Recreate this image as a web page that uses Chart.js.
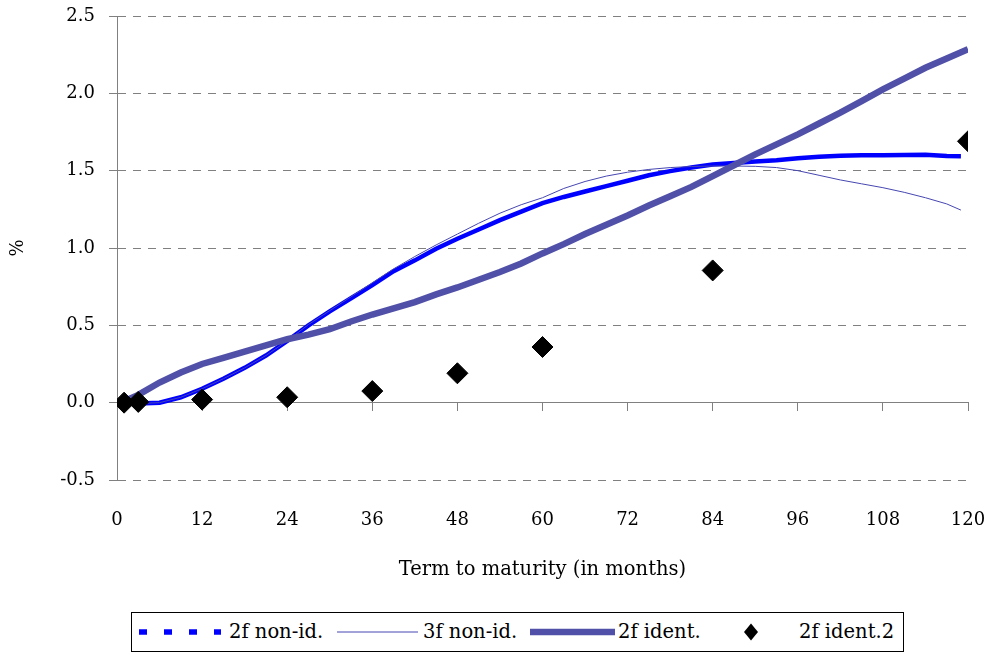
<!DOCTYPE html>
<html>
<head>
<meta charset="utf-8">
<script src="https://cdn.jsdelivr.net/npm/chart.js@4/dist/chart.umd.min.js"></script>
<style>
  html, body { margin: 0; padding: 0; background: #fff; }
  #wrap { position: relative; width: 994px; height: 656px; }
  #legend {
    position: absolute; left: 131px; top: 612px; width: 773px; height: 40px;
    border: 1px solid #000; box-sizing: border-box; background: #fff;
    font-family: "DejaVu Serif", serif; font-size: 19.5px; color: #000;
  }
  #legend .txt { position: absolute; top: 0; height: 38px; line-height: 38px; white-space: nowrap; }
  #legend canvas { position: absolute; top: 0; }
</style>
</head>
<body>
<div id="wrap">
  <canvas id="chart" width="994" height="656"></canvas>
  <div id="legend"></div>
</div>
<script>
// Terms (months) and yields (%)
const termsNonId = [1, 3, 6, 9, 12, 15, 18, 21, 24, 27, 30, 33, 36, 39, 42, 45, 48, 51, 54, 57, 60,
  63, 66, 69, 72, 75, 78, 81, 84, 87, 90, 93, 96, 99, 102, 105, 108, 111, 114, 117, 119];
const nonId2f = [0.00, -0.005, 0.00, 0.035, 0.09, 0.155, 0.225, 0.305, 0.40, 0.50, 0.59, 0.675, 0.76,
  0.85, 0.92, 0.995, 1.06, 1.12, 1.18, 1.235, 1.29, 1.33, 1.365, 1.40, 1.435, 1.47, 1.497, 1.52,
  1.54, 1.55, 1.56, 1.567, 1.58, 1.59, 1.597, 1.60, 1.60, 1.602, 1.603, 1.595, 1.594];
const nonId3f = [0.00, -0.005, 0.00, 0.035, 0.09, 0.155, 0.225, 0.305, 0.40, 0.505, 0.595, 0.685, 0.775,
  0.865, 0.945, 1.02, 1.09, 1.16, 1.225, 1.28, 1.325, 1.385, 1.43, 1.465, 1.49, 1.508, 1.52, 1.527,
  1.53, 1.53, 1.528, 1.52, 1.50, 1.47, 1.44, 1.415, 1.39, 1.36, 1.325, 1.285, 1.245];

const termsIdent = [1, 3, 6, 9, 12, 15, 18, 21, 24, 27, 30, 33, 36, 39, 42, 45, 48, 51, 54, 57, 60,
  63, 66, 69, 72, 75, 78, 81, 84, 87, 90, 93, 96, 99, 102, 105, 108, 111, 114, 117, 120];
const ident2f = [0.01, 0.05, 0.13, 0.195, 0.25, 0.29, 0.33, 0.37, 0.41, 0.44, 0.475, 0.525, 0.57,
  0.61, 0.65, 0.70, 0.745, 0.795, 0.845, 0.90, 0.965, 1.025, 1.09, 1.15, 1.21, 1.275, 1.335, 1.395,
  1.465, 1.535, 1.605, 1.67, 1.735, 1.805, 1.875, 1.95, 2.025, 2.095, 2.165, 2.225, 2.285];

const termsIdent2 = [1, 3, 12, 24, 36, 48, 60, 84, 120];
const ident2fPoints = [0.00, 0.005, 0.02, 0.035, 0.075, 0.19, 0.36, 0.855, 1.69];

const seriesLabels = ['2f non-id.', '3f non-id.', '2f ident.', '2f ident.2'];
const xTicks = [0, 12, 24, 36, 48, 60, 72, 84, 96, 108, 120];
const yTicks = [-0.5, 0.0, 0.5, 1.0, 1.5, 2.0, 2.5];

const pairs = (xs, ys) => xs.map((x, i) => ({ x: x, y: ys[i] }));

const GRAY = '#808080';
Chart.defaults.font.family = '"DejaVu Serif", serif';
Chart.defaults.font.size = 18;
Chart.defaults.color = '#000';

const chart = new Chart(document.getElementById('chart'), {
  type: 'line',
  data: {
    datasets: [
      {
        label: seriesLabels[0], data: pairs(termsNonId, nonId2f),
        borderColor: '#0000FF', borderWidth: 4.5, pointRadius: 0, tension: 0,
        borderCapStyle: 'butt', order: 3
      },
      {
        label: seriesLabels[1], data: pairs(termsNonId, nonId3f),
        borderColor: '#4646B2', borderWidth: 1, pointRadius: 0, tension: 0, order: 2
      },
      {
        label: seriesLabels[2], data: pairs(termsIdent, ident2f),
        borderColor: '#5050A8', borderWidth: 6.5, pointRadius: 0, tension: 0,
        borderCapStyle: 'butt', order: 1
      },
      {
        label: seriesLabels[3], data: pairs(termsIdent2, ident2fPoints),
        showLine: false, pointStyle: 'rectRot', pointRadius: 10.5,
        pointBackgroundColor: '#000', pointBorderColor: '#000', pointBorderWidth: 1, order: 0
      }
    ]
  },
  options: {
    responsive: false,
    animation: false,
    devicePixelRatio: 1,
    layout: { padding: { top: 16, right: 26, left: 0, bottom: 0 } },
    plugins: { legend: { display: false }, tooltip: { enabled: false } },
    scales: {
      x: {
        type: 'linear', position: 'bottom', min: 0, max: 120,
        afterBuildTicks: s => { s.ticks = xTicks.map(v => ({ value: v })); },
        afterFit: s => { s.height = 176; s.paddingLeft = 0; s.paddingRight = 0; },
        ticks: { padding: 30, autoSkip: false, maxRotation: 0, color: '#000' },
        grid: { display: false, drawTicks: false },
        border: { display: false },
        title: {
          display: true, text: 'Term to maturity (in months)',
          font: { size: 19.5 }, padding: { top: 0, bottom: 74 }
        }
      },
      xZero: {
        axis: 'x', type: 'linear', position: { y: 0 }, min: 0, max: 120,
        afterBuildTicks: s => { s.ticks = xTicks.map(v => ({ value: v })); },
        afterFit: s => { s.paddingLeft = 0; s.paddingRight = 0; },
        ticks: { display: false },
        grid: { drawOnChartArea: false, drawTicks: true, tickLength: 8, tickColor: GRAY, tickWidth: 1 },
        border: { display: true, color: GRAY, width: 1 }
      },
      y: {
        type: 'linear', position: 'left', min: -0.5, max: 2.5,
        afterBuildTicks: s => { s.ticks = yTicks.map(v => ({ value: v })); },
        afterFit: s => { s.width = 117; s.paddingTop = 0; s.paddingBottom = 0; },
        ticks: { padding: 14, color: '#000', callback: v => Number(v).toFixed(1) },
        grid: {
          color: c => (c.tick && c.tick.value === 0) ? 'rgba(0,0,0,0)' : GRAY,
          lineWidth: 1, tickLength: 8, tickColor: GRAY, tickWidth: 1
        },
        border: { display: true, color: GRAY, width: 1, dash: [8, 7] },
        title: { display: true, text: '%', padding: { top: 8, bottom: 0 } }
      }
    }
  }
});

// Boxed legend under the plot, built from the datasets
const legendSlots = [
  { sampleX: 7, sampleW: 82, textX: 97, kind: 'dash' },
  { sampleX: 205, sampleW: 81, textX: 291, kind: 'line' },
  { sampleX: 398, sampleW: 85, textX: 486, kind: 'line' },
  { sampleX: 609, sampleW: 20, textX: 667, kind: 'diamond' }
];
const legendEl = document.getElementById('legend');
chart.data.datasets.forEach((ds, i) => {
  const slot = legendSlots[i];
  const cv = document.createElement('canvas');
  cv.width = slot.sampleW; cv.height = 38;
  cv.style.left = slot.sampleX + 'px';
  legendEl.appendChild(cv);
  const g = cv.getContext('2d');
  const mid = 19;
  if (slot.kind === 'diamond') {
    const cx = slot.sampleW / 2;
    g.fillStyle = ds.pointBackgroundColor;
    g.beginPath();
    g.moveTo(cx, mid - 8.5); g.lineTo(cx + 7, mid); g.lineTo(cx, mid + 8.5); g.lineTo(cx - 7, mid);
    g.closePath(); g.fill();
  } else {
    g.strokeStyle = ds.borderColor;
    g.lineWidth = slot.kind === 'dash' ? 5.5 : ds.borderWidth;
    if (slot.kind === 'dash') g.setLineDash([8, 17]);
    g.beginPath(); g.moveTo(0, mid); g.lineTo(slot.sampleW, mid); g.stroke();
  }
  const t = document.createElement('span');
  t.className = 'txt';
  t.style.left = slot.textX + 'px';
  t.textContent = ds.label;
  legendEl.appendChild(t);
});
</script>
</body>
</html>
